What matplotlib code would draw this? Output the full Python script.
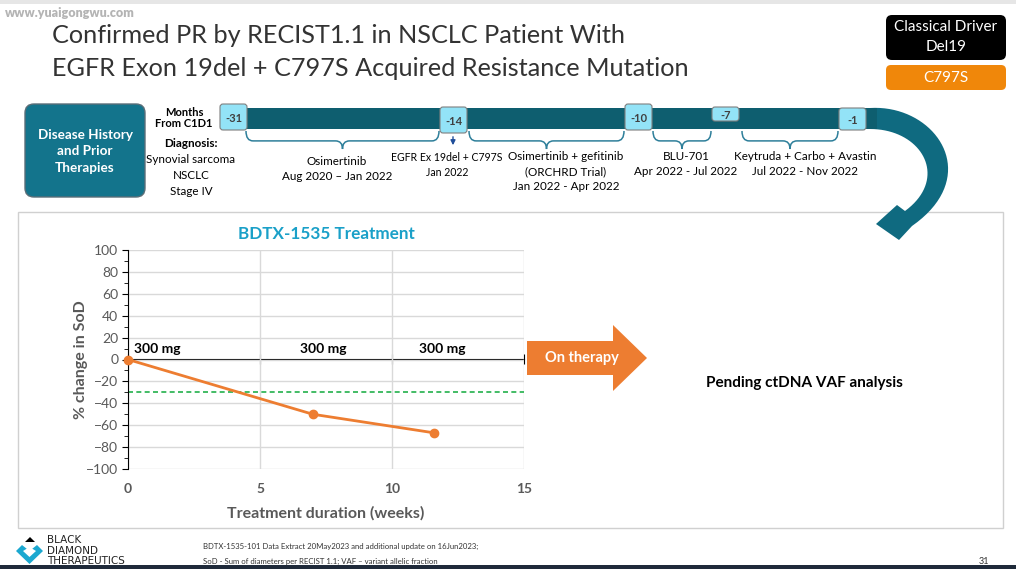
import numpy as np
import matplotlib
matplotlib.use("Agg")
import matplotlib.pyplot as plt
from matplotlib.patches import FancyBboxPatch, Rectangle, Polygon, PathPatch
from matplotlib.path import Path

plt.rcParams['font.family'] = ['Lato', 'DejaVu Sans']

# ---- data ----
weeks = [0, 7.0, 11.6]
pct_change = [0, -50, -67]
pr_threshold = -30
dose_labels = ['300 mg', '300 mg', '300 mg']
dose_weeks = [1.1, 7.4, 11.9]

months = ['-31', '-14', '-10', '-7', '-1']
therapies = [
    'Osimertinib\nAug 2020 \u2013 Jan 2022',
    'Osimertinib + gefitinib\n(ORCHRD Trial)\nJan 2022 - Apr 2022',
    'BLU-701\nApr 2022 - Jul 2022',
    'Keytruda + Carbo + Avastin\nJul 2022 - Nov 2022',
]
mutation_event = 'EGFR Ex 19del + C797S\nJan 2022'
diagnosis = ['Synovial sarcoma', 'NSCLC', 'Stage IV']

TEAL_DARK = '#0E5E6F'
TEAL = '#13748C'
CYAN = '#93E3F7'
ORANGE = '#ED7D31'
GRAY = '#595959'

fig = plt.figure(figsize=(10.16, 5.69), dpi=100)
bg = fig.add_axes([0, 0, 1, 1])
bg.set_xlim(0, 1016)
bg.set_ylim(569, 0)
bg.axis('off')

# top shading + bottom strip
bg.add_patch(Rectangle((0, 0), 1016, 4, color='#E6E6E6', lw=0))
bg.add_patch(Rectangle((0, 565), 1016, 4, color='#1F2A3A', lw=0))
bg.text(5, 13, 'www.yuaigongwu.com', fontsize=9, color='#B4B4B4',
        fontweight='heavy', va='center')

# title
bg.text(52, 35, 'Confirmed PR by RECIST1.1 in NSCLC Patient With',
        fontsize=18.2, color='#333333', va='center')
bg.text(52, 68, 'EGFR Exon 19del + C797S Acquired Resistance Mutation',
        fontsize=18.2, color='#333333', va='center')

# mutation tags
bg.add_patch(FancyBboxPatch((886, 15), 120, 45, boxstyle='round,pad=0,rounding_size=6',
                            fc='black', ec='none'))
bg.text(946, 27, 'Classical Driver', color='white', fontsize=11, ha='center', va='center')
bg.text(946, 47, 'Del19', color='white', fontsize=11, ha='center', va='center')
bg.add_patch(FancyBboxPatch((886, 65), 120, 25, boxstyle='round,pad=0,rounding_size=5',
                            fc='#F0870A', ec='none'))
bg.text(946, 78, 'C797S', color='white', fontsize=11, ha='center', va='center')

# disease history box
bg.add_patch(FancyBboxPatch((25, 104), 120, 93, boxstyle='round,pad=0,rounding_size=9',
                            fc=TEAL, ec='#5A6E78', lw=1))
bg.text(85, 151, 'Disease History\nand Prior\nTherapies', color='white', fontsize=9.7,
        fontweight='bold', ha='center', va='center', linespacing=1.45)

bg.text(184, 118, 'Months\nFrom C1D1', fontsize=8, fontweight='bold', ha='center',
        va='center', linespacing=0.95)
bg.text(191, 143, 'Diagnosis:', fontsize=8.4, fontweight='bold', ha='center', va='center')
for i, d in enumerate(diagnosis):
    bg.text(191, 159 + i * 16, d, fontsize=8.4, ha='center', va='center')

# chart panel
bg.add_patch(Rectangle((18, 212), 985, 316, fc='white', ec='#D0D0D0', lw=1))


# curved arrow from the timeline down into the chart panel
def bez(p0, p1, p2, p3, n=40):
    t = np.linspace(0, 1, n)[:, None]
    p0, p1, p2, p3 = map(np.array, (p0, p1, p2, p3))
    return (1 - t) ** 3 * p0 + 3 * (1 - t) ** 2 * t * p1 + 3 * (1 - t) * t ** 2 * p2 + t ** 3 * p3


outer = bez((870, 108), (935, 104), (985, 175), (912, 226))
inner = bez((870, 129), (922, 129), (950, 178), (905, 211))
arrow_pts = np.vstack([outer, [(899, 240), (876, 224), (897, 205)], inner[::-1]])
bg.add_patch(Polygon(arrow_pts, closed=True, fc='#0F6A80', ec='none', zorder=3))

# timeline bar
bg.add_patch(Rectangle((222, 108), 655, 21, fc=TEAL_DARK, ec='none', zorder=3))

box_x = [220, 440, 625, 712, 839]
box_y = [104, 107, 104, 107, 108]
box_h = [26, 26, 26, 14, 22]
for bx, by, bh, m in zip(box_x, box_y, box_h, months):
    bg.add_patch(FancyBboxPatch((bx, by), 27, bh, boxstyle='round,pad=0,rounding_size=3',
                                fc=CYAN, ec='#7F7F7F', lw=0.8, zorder=4))
    bg.text(bx + 13.5, by + bh / 2 + 1, m, fontsize=8, fontweight='bold', color='#404040',
            ha='center', va='center', zorder=5)


def brace(x1, x2, y0, h, r=7):
    xm = (x1 + x2) / 2
    ym = y0 + h * 0.55
    verts = [(x1, y0), (x1, ym), (x1 + r, ym), (xm - r, ym), (xm, ym), (xm, y0 + h),
             (xm, ym), (xm + r, ym), (x2 - r, ym), (x2, ym), (x2, y0)]
    codes = [Path.MOVETO, Path.CURVE3, Path.CURVE3, Path.LINETO, Path.CURVE3, Path.CURVE3,
             Path.CURVE3, Path.CURVE3, Path.LINETO, Path.CURVE3, Path.CURVE3]
    bg.add_patch(PathPatch(Path(verts, codes), fc='none', ec='#2E7F9A', lw=1.1))


brace_spans = [(246, 439), (469, 624), (653, 711), (742, 838)]
label_x = [337, 566, 686, 805]
label_y = [156, 151, 151, 151]
for (x1, x2), lx, ly, t in zip(brace_spans, label_x, label_y, therapies):
    brace(x1, x2, 131, 18)
    bg.text(lx, ly, t, fontsize=8.4, ha='center', va='top', linespacing=1.45)

bg.annotate('', xy=(453, 148), xytext=(453, 134),
            arrowprops=dict(arrowstyle='-|>', color='#1F4E9A', lw=1, mutation_scale=7))
bg.text(447, 152, mutation_event, fontsize=7.6, ha='center', va='top', linespacing=1.4)

# On therapy arrow
bg.add_patch(Polygon([(527, 341), (613, 341), (613, 325), (647, 358), (613, 391),
                      (613, 375), (527, 375)], closed=True, fc=ORANGE, ec='none'))
bg.text(582, 358, 'On therapy', color='white', fontsize=10.5, fontweight='bold',
        ha='center', va='center')
bg.text(804, 383, 'Pending ctDNA VAF analysis', color='black', fontsize=11,
        fontweight='bold', ha='center', va='center')

# footer
bg.add_patch(Polygon([(25, 542), (30, 537), (35, 542)], closed=True, fc='black', ec='none'))
bg.add_patch(Polygon([(16, 551), (22, 545), (29.5, 551), (37, 545), (43, 551), (29.5, 564)],
                     closed=True, fc='#1BA8D0', ec='none'))
bg.add_patch(Polygon([(23, 551), (29.5, 547), (36, 551), (29.5, 557)], closed=True,
                     fc='white', ec='none'))
for i, w in enumerate(['BLACK', 'DIAMOND', 'THERAPEUTICS']):
    bg.text(47, 540 + i * 10.5, w, fontsize=7.5, color='#222222', va='center',
            family='DejaVu Sans')
bg.text(203, 546, 'BDTX-1535-101 Data Extract 20May2023 and additional update on 16Jun2023;',
        fontsize=5.6, color='#333333', va='center')
bg.text(203, 561, 'SoD - Sum of diameters per RECIST 1.1; VAF \u2013 variant allelic fraction',
        fontsize=5.6, color='#333333', va='center')
bg.text(979, 561, '31', fontsize=6.5, color='#333333', va='center')

# ---- chart ----
ax = fig.add_axes([128 / 1016, (569 - 469) / 569, 396 / 1016, 219 / 569])
ax.set_xlim(0, 15)
ax.set_ylim(-100, 100)
ax.set_facecolor('none')
ax.set_xticks([0, 5, 10, 15])
ax.set_yticks(np.arange(-100, 101, 20))
ax.set_yticks(np.arange(-100, 101, 10), minor=True)
ax.grid(True, which='major', color='#D9D9D9', lw=1)
ax.set_axisbelow(True)
for s in ['top', 'right', 'bottom']:
    ax.spines[s].set_visible(False)
ax.spines['left'].set_color('black')
ax.tick_params(axis='x', length=0, pad=10, labelcolor=GRAY, labelsize=10)
for lab in ax.get_xticklabels():
    lab.set_fontweight('bold')
ax.tick_params(axis='y', which='major', length=4, labelcolor=GRAY, labelsize=10, pad=3)
ax.tick_params(axis='y', which='minor', length=3)

sec = ax.secondary_xaxis(0.5)
sec.set_xticks([0, 5, 10, 15])
sec.set_xticklabels([])
sec.tick_params(direction='inout', length=7, color='black')
sec.spines['bottom'].set_color('black')

ax.axhline(pr_threshold, color='#22B04B', ls=(0, (3, 2)), lw=1.2)
ax.plot(weeks, pct_change, color=ORANGE, lw=2, marker='o', ms=6, clip_on=False, zorder=5)
for dx, dl in zip(dose_weeks, dose_labels):
    ax.text(dx, 10, dl, fontsize=10, fontweight='bold', ha='center', va='center')

ax.set_title('BDTX-1535 Treatment', color='#1AA0C8', fontsize=12.3, fontweight='bold', pad=8)
ax.set_xlabel('Treatment duration (weeks)', fontsize=11.5, fontweight='bold', color=GRAY,
              labelpad=8)
ax.set_ylabel('% change in SoD', fontsize=11.5, fontweight='bold', color=GRAY, labelpad=-1)

fig.savefig('out.png', dpi=100)
